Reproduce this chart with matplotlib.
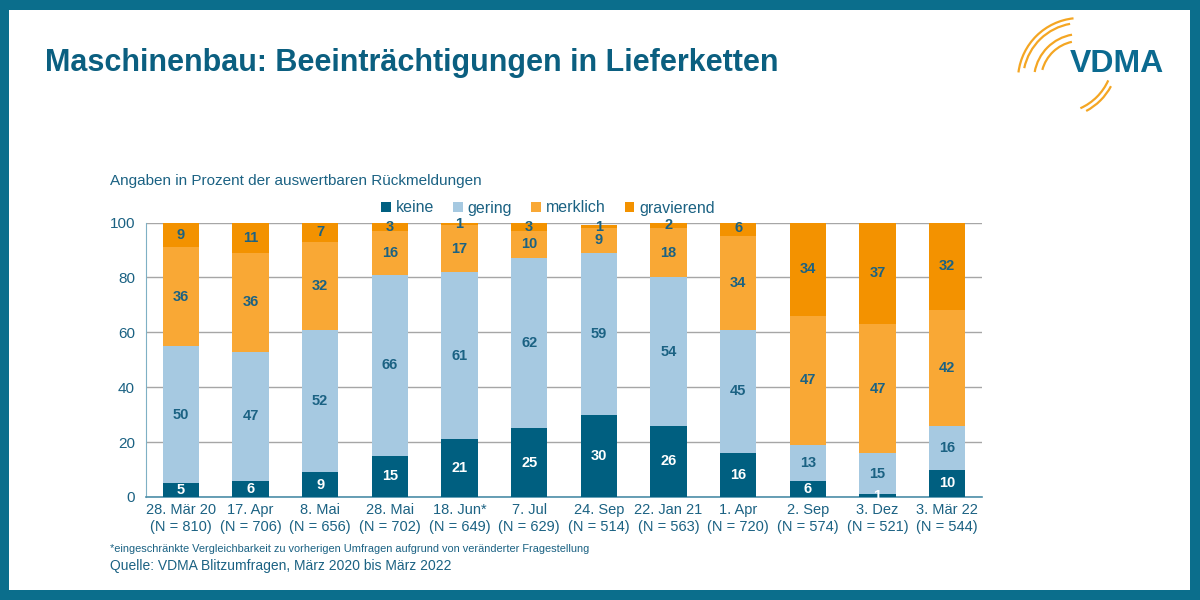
import numpy as np
import matplotlib
matplotlib.use("Agg")
import matplotlib.pyplot as plt
from matplotlib.patches import Rectangle, Arc, Patch

plt.rcParams['font.family'] = ['Liberation Sans', 'DejaVu Sans']

# data
dates = ["28. Mär 20", "17. Apr", "8. Mai", "28. Mai", "18. Jun*", "7. Jul",
         "24. Sep", "22. Jan 21", "1. Apr", "2. Sep", "3. Dez", "3. Mär 22"]
n_values = [810, 706, 656, 702, 649, 629, 514, 563, 720, 574, 521, 544]
keine = [5, 6, 9, 15, 21, 25, 30, 26, 16, 6, 1, 10]
gering = [50, 47, 52, 66, 61, 62, 59, 54, 45, 13, 15, 16]
merklich = [36, 36, 32, 16, 17, 10, 9, 18, 34, 47, 47, 42]
gravierend = [9, 11, 7, 3, 1, 3, 1, 2, 6, 34, 37, 32]

series_names = ["keine", "gering", "merklich", "gravierend"]
series = [keine, gering, merklich, gravierend]
colors = ["#005f80", "#a6c9e1", "#f9a835", "#f39200"]
label_colors = ["white", "#1b6283", "#1b6283", "#1b6283"]

teal = "#0b6e8c"
txt = "#1b6283"

fig = plt.figure(figsize=(12, 6), dpi=100)

# frame + logo in pixel coords (y up)
bg = fig.add_axes([0, 0, 1, 1], zorder=0)
bg.set_xlim(0, 1200)
bg.set_ylim(0, 600)
bg.axis('off')
bg.add_patch(Rectangle((0, 0), 1200, 600, facecolor=teal, edgecolor='none'))
bg.add_patch(Rectangle((9, 10), 1181, 580, facecolor='white', edgecolor='none'))

# logo swooshes
orange = "#f4a623"
for r, t1, t2 in [(62, 96, 173), (57, 100, 168), (46, 100, 170), (39, 102, 165)]:
    bg.add_patch(Arc((1080, 520), 2 * r, 2 * r, theta1=t1, theta2=t2, color=orange, lw=1.6))
for r, t1, t2 in [(55, 294, 336), (60, 298, 332)]:
    bg.add_patch(Arc((1058, 542), 2 * r, 2 * r, theta1=t1, theta2=t2, color=orange, lw=1.6))
bg.text(1117, 536, "VDMA", color="#0b6a90", fontsize=23, fontweight='bold',
        ha='center', va='center')

bg.text(45, 600 - 63, "Maschinenbau: Beeinträchtigungen in Lieferketten",
        color="#0b5f80", fontsize=22, fontweight='bold', va='center', ha='left')
bg.text(110, 600 - 181, "Angaben in Prozent der auswertbaren Rückmeldungen",
        color=txt, fontsize=11, va='center', ha='left')
bg.text(110, 600 - 549,
        "*eingeschränkte Vergleichbarkeit zu vorherigen Umfragen aufgrund von veränderter Fragestellung",
        color=txt, fontsize=7.9, va='center', ha='left')
bg.text(110, 600 - 566, "Quelle: VDMA Blitzumfragen, März 2020 bis März 2022",
        color=txt, fontsize=10, va='center', ha='left')

ax = fig.add_axes([146 / 1200, 1 - 497 / 600, (982 - 146) / 1200, (497 - 222.5) / 600], zorder=2)
ax.patch.set_alpha(0)
x = np.arange(len(dates))
bottom = np.zeros(len(dates))
for name, vals, col, lc in zip(series_names, series, colors, label_colors):
    vals = np.array(vals, dtype=float)
    ax.bar(x, vals, width=0.52, bottom=bottom, color=col, label=name, zorder=3)
    for xi, b, v in zip(x, bottom, vals):
        ax.text(xi, b + v / 2, f"{int(v)}", ha='center', va='center', color=lc,
                fontsize=10.5, fontweight='bold', zorder=4)
    bottom += vals

ax.set_xlim(-0.5, len(dates) - 0.5)
ax.set_ylim(0, 100)
ax.set_yticks(range(0, 101, 20))
ax.yaxis.grid(True, color="#a6a6a6", lw=1, zorder=0)
ax.tick_params(axis='y', length=0, labelcolor=txt, labelsize=11, pad=8)
ax.tick_params(axis='x', length=0, labelcolor=txt, labelsize=10.5, pad=4)
ax.set_xticks(x)
ax.set_xticklabels([f"{d}\n(N = {n})" for d, n in zip(dates, n_values)], linespacing=1.3)
for s in ['top', 'right']:
    ax.spines[s].set_visible(False)
ax.spines['left'].set_color("#7fb0c4")
ax.spines['bottom'].set_color("#4d8fa9")
ax.spines['bottom'].set_linewidth(1.2)

handles = [Patch(facecolor=c, label=n) for c, n in zip(colors, series_names)]
leg = fig.legend(handles=handles, loc='center', bbox_to_anchor=(548 / 1200, 1 - 208 / 600),
                 ncol=4, frameon=False, handlelength=0.6, handleheight=0.6,
                 handletextpad=0.3, columnspacing=1.2, fontsize=11.5)
for t in leg.get_texts():
    t.set_color(txt)

fig.savefig("out.png", dpi=100)
